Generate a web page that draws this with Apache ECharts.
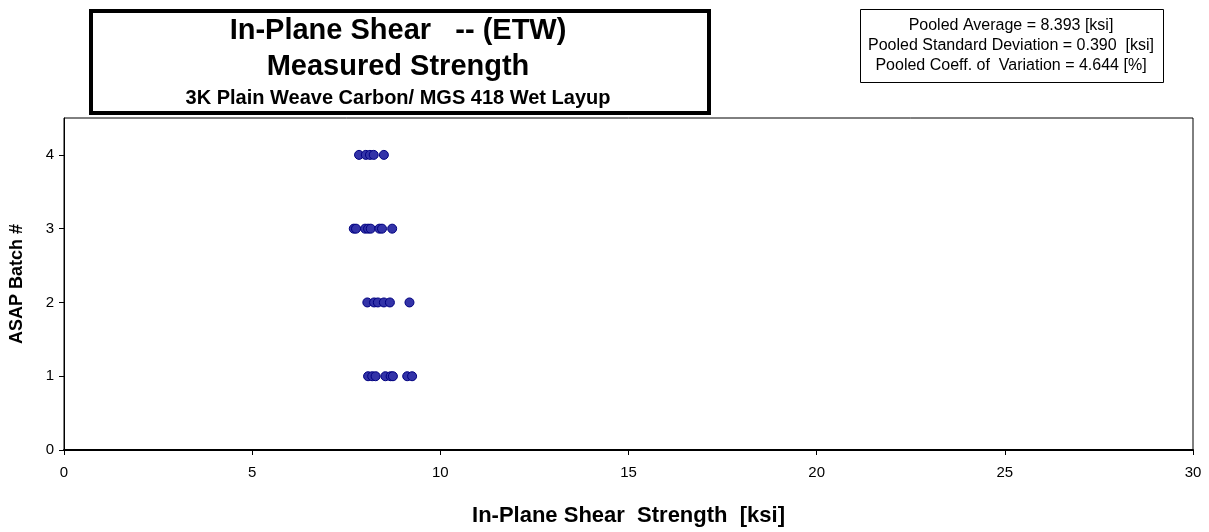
<!DOCTYPE html>
<html>
<head>
<meta charset="utf-8">
<script src="https://cdn.jsdelivr.net/npm/echarts@6/dist/echarts.min.js"></script>
<style>
  html, body { margin: 0; padding: 0; background: #fff; }
  #chart { width: 1209px; height: 532px; }
</style>
</head>
<body>
<div id="chart"></div>
<script>
// Measured in-plane shear strength (ksi) for each ASAP batch
const batch1 = [8.08, 8.19, 8.28, 8.54, 8.68, 8.74, 9.12, 9.25];
const batch2 = [8.06, 8.24, 8.34, 8.50, 8.66, 9.18];
const batch3 = [7.70, 7.76, 8.00, 8.08, 8.15, 8.38, 8.45, 8.72];
const batch4 = [7.84, 8.02, 8.13, 8.23, 8.50];
const batches = [1, 2, 3, 4];
const yTicks = [0, 1, 2, 3, 4];

const titleLines = ['In-Plane Shear   -- (ETW)', 'Measured Strength', '3K Plain Weave Carbon/ MGS 418 Wet Layup'];
const statLines = [
  'Pooled Average = 8.393 [ksi]',
  'Pooled Standard Deviation = 0.390  [ksi]',
  'Pooled Coeff. of  Variation = 4.644 [%]'
];

const points = [];
[batch1, batch2, batch3, batch4].forEach((vals, i) => {
  vals.forEach(v => points.push([v, batches[i]]));
});

const FONT = '"Liberation Sans", Arial, sans-serif';
const chart = echarts.init(document.getElementById('chart'), null, { renderer: 'canvas' });

chart.setOption({
  animation: false,
  backgroundColor: '#ffffff',
  grid: {
    left: 62, right: 16, top: 118, bottom: 80,
    show: true, borderColor: '#000', borderWidth: 1, backgroundColor: '#fff'
  },
  xAxis: {
    type: 'value', min: 0, max: 30, interval: 5,
    name: 'In-Plane Shear  Strength  [ksi]',
    nameLocation: 'middle', nameGap: 55,
    nameTextStyle: { fontFamily: FONT, fontSize: 22, fontWeight: 'bold', color: '#000' },
    axisLine: { show: true, onZero: false, lineStyle: { color: '#000', width: 2 } },
    axisTick: { show: true, inside: false, length: 5, lineStyle: { color: '#000' } },
    axisLabel: { fontFamily: FONT, fontSize: 15, color: '#000', margin: 15 },
    splitLine: { show: false }
  },
  yAxis: {
    type: 'value', min: 0, max: 4.5,
    name: 'ASAP Batch #',
    nameLocation: 'middle', nameGap: 38,
    nameTextStyle: { fontFamily: FONT, fontSize: 18, fontWeight: 'bold', color: '#000' },
    axisLine: { show: true, onZero: false, lineStyle: { color: '#000', width: 1 } },
    axisTick: { show: true, inside: false, length: 5, customValues: yTicks, lineStyle: { color: '#000' } },
    axisLabel: { fontFamily: FONT, fontSize: 15, color: '#000', margin: 10, customValues: yTicks },
    splitLine: { show: false }
  },
  series: [{
    type: 'scatter',
    data: points,
    symbol: 'circle',
    symbolSize: 9,
    itemStyle: { color: '#3333a8', borderColor: '#000080', borderWidth: 1, opacity: 1 }
  }],
  graphic: [
    {
      type: 'rect', left: 89, top: 9,
      shape: { width: 618, height: 102 },
      style: { fill: '#fff', stroke: '#000', lineWidth: 4 }
    },
    {
      type: 'text', x: 398, y: 31,
      style: { text: titleLines[0], font: 'bold 29px ' + FONT, fill: '#000', align: 'center', verticalAlign: 'middle' }
    },
    {
      type: 'text', x: 398, y: 67,
      style: { text: titleLines[1], font: 'bold 29px ' + FONT, fill: '#000', align: 'center', verticalAlign: 'middle' }
    },
    {
      type: 'text', x: 398, y: 98,
      style: { text: titleLines[2], font: 'bold 20px ' + FONT, fill: '#000', align: 'center', verticalAlign: 'middle' }
    },
    {
      type: 'rect', left: 860, top: 9,
      shape: { width: 303, height: 73 },
      style: { fill: '#fff', stroke: '#000', lineWidth: 1 }
    },
    {
      type: 'text', x: 1011, y: 26,
      style: { text: statLines[0], font: '16px ' + FONT, fill: '#000', align: 'center', verticalAlign: 'middle' }
    },
    {
      type: 'text', x: 1011, y: 46,
      style: { text: statLines[1], font: '16px ' + FONT, fill: '#000', align: 'center', verticalAlign: 'middle' }
    },
    {
      type: 'text', x: 1011, y: 66,
      style: { text: statLines[2], font: '16px ' + FONT, fill: '#000', align: 'center', verticalAlign: 'middle' }
    }
  ]
});
</script>
</body>
</html>
